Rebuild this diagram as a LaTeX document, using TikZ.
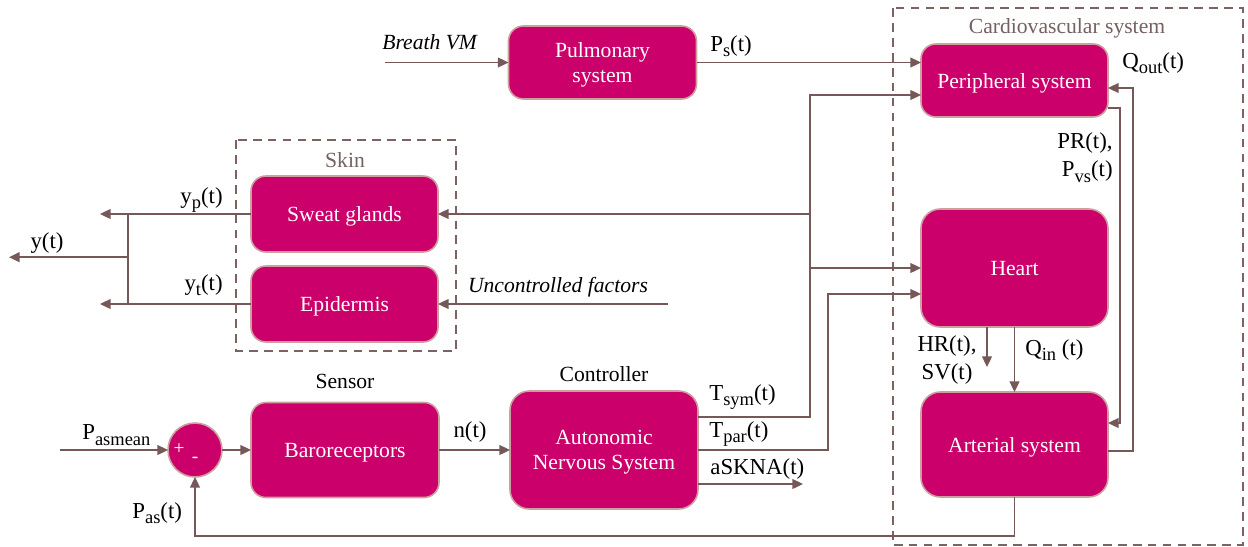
\documentclass[tikz,border=0pt]{standalone}
\usepackage{fontspec}
\setmainfont{Liberation Serif}
\usepackage{xcolor}
\usetikzlibrary{arrows.meta,positioning,calc}
\definecolor{boxfill}{RGB}{204,0,107}
\definecolor{boxedge}{RGB}{205,160,160}
\definecolor{wire}{RGB}{118,88,88}
\definecolor{framecol}{RGB}{125,98,98}
\definecolor{titlecol}{RGB}{118,96,96}
\newcommand{\boxfont}{\fontsize{12.3}{14.5}\selectfont}
\newcommand{\labfont}{\fontsize{13}{16}\selectfont}
\newcommand{\lsub}[1]{\raisebox{-0.5ex}{\fontsize{10.5}{10.5}\selectfont #1}}
\tikzset{
  block/.style={rectangle, rounded corners=8.5pt, draw=boxedge, fill=boxfill,
                line width=0.9pt, text=white, minimum width=3.76cm, text depth=0pt,
                font=\boxfont, align=center, inner sep=2pt, outer sep=0pt},
  sumnode/.style={circle, draw=boxedge, fill=boxfill, line width=0.9pt,
                  minimum size=1.08cm, inner sep=0pt, outer sep=0pt},
  flow/.style={-{Triangle[length=6pt,width=5.5pt]}, line width=1.1pt, wire},
  wireline/.style={line width=1.1pt, wire},
  dashbox/.style={draw=framecol, line width=1.1pt, dash pattern=on 5pt off 3.5pt},
  sig/.style={font=\labfont, text=black, inner sep=0pt},
  title/.style={font=\boxfont, text=titlecol, inner sep=1pt},
}
\begin{document}
\begin{tikzpicture}
\useasboundingbox (0,0) rectangle (24.96,-10.94);

% frames
\draw[dashbox] (4.72,-2.8) rectangle (9.12,-7.02);
\draw[dashbox] (17.86,-0.16) rectangle (24.86,-10.9);
\node[title] (skin) at (6.9,-3.2) {Skin};
\node[title] (cardio) at (21.34,-0.56) {Cardiovascular system};

% blocks
\node[block, minimum height=1.46cm] (pulm) at (12.05,-1.25) {Pulmonary\\system};
\node[block, minimum height=1.46cm, minimum width=3.74cm] (periph) at (20.29,-1.61) {Peripheral system};
\node[block, minimum height=2.36cm, minimum width=3.74cm, rounded corners=11pt,
      below=1.84cm of periph] (heart) {Heart};
\node[block, minimum height=2.1cm, minimum width=3.74cm, rounded corners=11pt,
      below=1.3cm of heart] (arter) {Arterial system};

\node[block, minimum height=1.52cm, minimum width=3.74cm] (sweat) at (6.89,-4.28) {Sweat glands};
\node[block, minimum height=1.52cm, minimum width=3.74cm, below=0.28cm of sweat] (epid) {Epidermis};

\node[sumnode] (sum) at (3.9,-9.0) {};
\node[font=\fontsize{11}{11}\selectfont, text=white, inner sep=0pt] (plus) at ([xshift=-0.32cm,yshift=0.02cm]sum.center) {+};
\node[font=\fontsize{11}{11}\selectfont, text=white, inner sep=0pt] (minus) at ([yshift=-0.2cm]sum.center) {-};
\node[block, minimum height=1.9cm, right=0.58cm of sum] (baro) {Baroreceptors};
\node[block, minimum height=2.36cm, rounded corners=11pt, right=1.42cm of baro] (ans) {Autonomic\\Nervous System};
\node[font=\boxfont, above=0.16cm of baro] (sensor) {Sensor};
\node[font=\boxfont, above=0.06cm of ans] (ctrl) {Controller};

% free ends
\coordinate (bvm) at (7.7,-1.25);
\coordinate (pin) at (1.2,-9.0);
\coordinate (ucin) at (13.36,-6.08);
\coordinate (symout) at ([yshift=0.66cm]ans.east);
\coordinate (skout) at ([yshift=-0.68cm]ans.east);
\coordinate (bus) at ([xshift=2.24cm]symout);
\coordinate (perin) at ([yshift=-0.29cm]periph.west);
\coordinate (parin) at ([yshift=-0.52cm]heart.west);
\coordinate (pvsout) at ([yshift=-0.55cm]periph.east);
\coordinate (pvsin) at ([yshift=0.43cm]arter.east);
\coordinate (qout) at ([yshift=-0.13cm]arter.east);
\coordinate (qin) at ([yshift=-0.15cm]periph.east);
\coordinate (ysplit) at ([xshift=-2.46cm]sweat.west);
\coordinate (ymid) at ($(ysplit)!0.48!(ysplit |- epid.west)$);

% connectors
\draw[flow] (bvm) -- (pulm.west);
\draw[flow] (pulm.east) -- (pulm.east -| periph.west);
\draw[flow] (symout) -- (bus) |- (perin);
\draw[flow] (bus |- sweat.east) -- (sweat.east);
\draw[flow] (bus |- heart.west) -- (heart.west);
\draw[flow] (ans.east) -- ++(2.6,0) |- (parin);
\draw[flow] (skout) -- ++(2.1,0);
\draw[flow] (heart.south) -- (arter.north);
\draw[flow] ([xshift=-0.55cm]heart.south) -- ++(0,-0.8);
\draw[flow] (pvsout) -- ++(0.24,0) |- (pvsin);
\draw[flow] (qout) -- ++(0.5,0) |- (qin);
\draw[flow] (arter.south) -- ++(0,-0.78) -| (sum.south);
\draw[flow] (pin) -- (sum.west);
\draw[flow] (sum) -- (baro);
\draw[flow] (baro) -- (ans);
\draw[flow] (ucin) -- (epid.east);
\draw[flow] (sweat.west) -- ++(-3.02,0);
\draw[flow] (epid.west) -- ++(-3.02,0);
\draw[wireline] (ysplit) -- (ysplit |- epid.west);
\draw[flow] (ymid) -- ++(-2.38,0);

% signal labels
\node[sig, font=\boxfont\itshape, anchor=west] (breath) at (7.64,-0.84) {Breath VM};
\node[sig, font=\boxfont\itshape] (uncf) at (11.16,-5.74) {Uncontrolled factors};
\node[sig, anchor=west] (ps) at (14.2,-0.92) {P\lsub{s}(t)};
\node[sig, anchor=west] (qo) at (22.44,-1.26) {Q\lsub{out}(t)};
\node[sig, align=right, anchor=east] (prpvs) at (22.26,-3.15) {PR(t),\\P\lsub{vs}(t)};
\node[sig, align=center] (hrsv) at (18.94,-7.2) {HR(t),\\SV(t)};
\node[sig, anchor=west] (qi) at (20.5,-7.0) {Q\lsub{in} (t)};
\node[sig, anchor=west] (tsym) at (14.18,-7.94) {T\lsub{sym}(t)};
\node[sig, anchor=west] (tpar) at (14.18,-8.68) {T\lsub{par}(t)};
\node[sig, anchor=west] (askna) at (14.2,-9.38) {aSKNA(t)};
\node[sig] (nt) at (9.4,-8.64) {n(t)};
\node[sig, anchor=west] (pmean) at (1.64,-8.7) {P\lsub{asmean}};
\node[sig, anchor=west] (pas) at (2.64,-10.26) {P\lsub{as}(t)};
\node[sig, anchor=east] (yp) at (4.46,-4.0) {y\lsub{p}(t)};
\node[sig, anchor=east] (yt) at (4.46,-5.7) {y\lsub{t}(t)};
\node[sig] (yy) at (0.94,-4.86) {y(t)};

\end{tikzpicture}
\end{document}
